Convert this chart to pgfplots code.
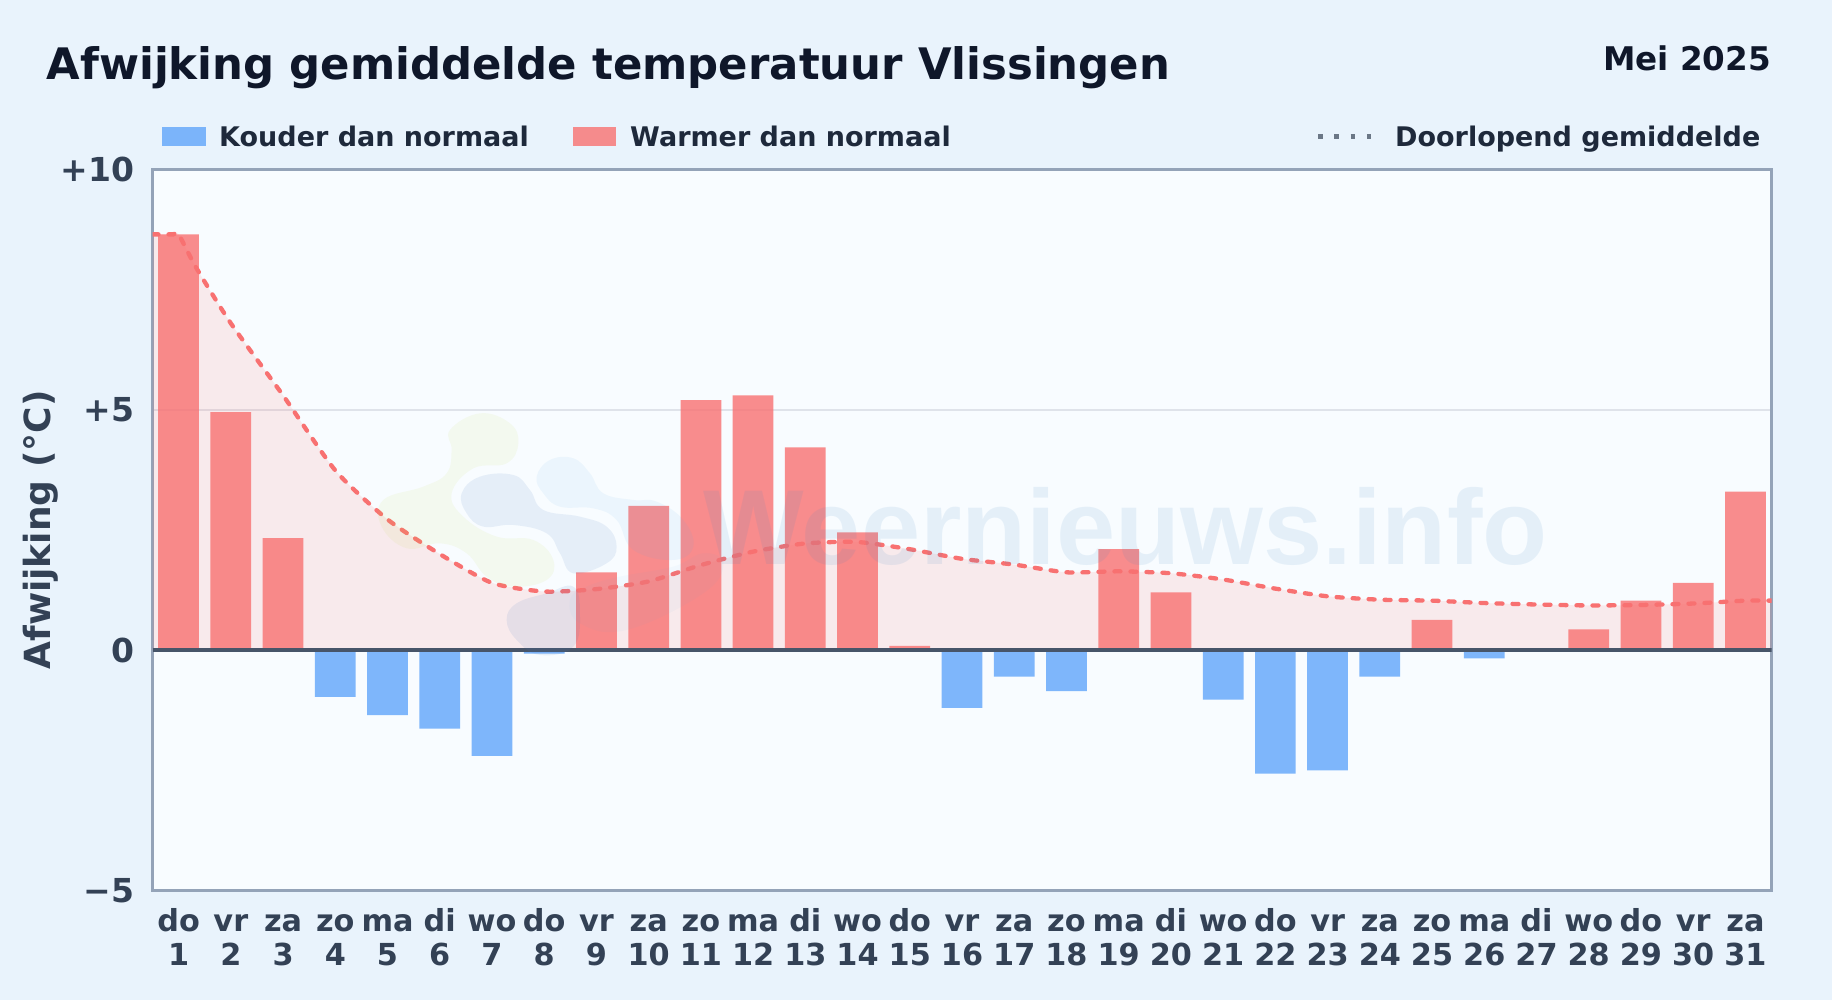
\documentclass[border=0pt]{standalone}
\usepackage{fontspec}
\setmainfont{DejaVu Sans}
\newfontfamily\markfont{Liberation Sans}
\usepackage{pgfplots}
\pgfplotsset{compat=1.18}
\definecolor{pagebg}{HTML}{E9F3FC}
\definecolor{plotbg}{HTML}{F8FCFF}
\definecolor{warm}{HTML}{F87171}
\definecolor{cold}{HTML}{60A5FA}
\definecolor{ink}{HTML}{0F172A}
\definecolor{legendink}{HTML}{1E293B}
\definecolor{tickink}{HTML}{334155}
\definecolor{frame}{HTML}{94A3B8}
\definecolor{zeroline}{HTML}{475569}
\definecolor{legenddots}{HTML}{6B7786}
\definecolor{wmgreen}{HTML}{BAD737}
\definecolor{wmsky}{HTML}{58ACEB}
\definecolor{wmblue}{HTML}{447AC3}
\definecolor{wmtext}{HTML}{3A84C3}
\newcommand\tl[2]{\rule{0pt}{26bp}#1\\#2}

\begin{document}
\begin{tikzpicture}[x=1bp,y=1bp]
\useasboundingbox (0,0) rectangle (1832,1000);
\fill[pagebg] (0,0) rectangle (1832,1000);

\begin{axis}[
    at={(152.5bp,109.5bp)}, anchor=south west,
    scale only axis, width=1619bp, height=721bp,
    xmin=0.5, xmax=31.5, ymin=-5, ymax=10,
    axis background/.style={fill=plotbg},
    axis line style={frame, line width=2.6bp},
    ytick={-5,0,5,10},
    yticklabels={−5,0,+5,+10},
    xtick={1,...,31},
    xticklabels={{\tl{do}{1}},{\tl{vr}{2}},{\tl{za}{3}},{\tl{zo}{4}},{\tl{ma}{5}},{\tl{di}{6}},{\tl{wo}{7}},{\tl{do}{8}},{\tl{vr}{9}},{\tl{za}{10}},{\tl{zo}{11}},{\tl{ma}{12}},{\tl{di}{13}},{\tl{wo}{14}},{\tl{do}{15}},{\tl{vr}{16}},{\tl{za}{17}},{\tl{zo}{18}},{\tl{ma}{19}},{\tl{di}{20}},{\tl{wo}{21}},{\tl{do}{22}},{\tl{vr}{23}},{\tl{za}{24}},{\tl{zo}{25}},{\tl{ma}{26}},{\tl{di}{27}},{\tl{wo}{28}},{\tl{do}{29}},{\tl{vr}{30}},{\tl{za}{31}}},
    tick style={draw=none},
    xticklabel style={align=center, font=\fontsize{30.3bp}{34bp}\selectfont\bfseries, text=tickink, yshift=-7.5bp},
    yticklabel style={font=\fontsize{33bp}{36bp}\selectfont\bfseries, text=tickink, xshift=-14.5bp},
    ylabel={Afwijking (°C)},
    every axis y label/.style={at={(axis description cs:-0.069,0.5)}, rotate=90, anchor=center},
    ylabel style={font=\fontsize{36bp}{38bp}\selectfont\bfseries, text=tickink},
    ymajorgrids, grid style={draw=frame!30, line width=1.4bp},
    ybar, bar shift=0pt, bar width=0.78,
]
% area under the running mean
\addplot[ybar=false, sharp plot, smooth, tension=0.4, draw=none, fill=warm, fill opacity=0.13] coordinates {
    (0.5,8.65) (0.9,8.65) (1,8.65) (1.33,7.97) (2,6.8) (3,5.3) (4,3.74) (5,2.72) (6,2.0) (7,1.4) (8,1.22) (9,1.27) (10,1.43)
    (11,1.77) (12,2.05) (13,2.22) (14,2.25) (15,2.1) (16,1.9) (17,1.78) (18,1.62) (19,1.64) (20,1.6)
    (21,1.47) (22,1.28) (23,1.12) (24,1.05) (25,1.03) (26,0.98) (27,0.95) (28,0.93) (29,0.94) (30,0.97)
    (31,1.03) (31.5,1.03)
} \closedcycle;
% warmer days
\addplot[draw=none, fill=warm, fill opacity=0.8] coordinates {
    (1,8.65) (2,4.95) (3,2.33) (9,1.62) (10,3.0) (11,5.2) (12,5.3) (13,4.22) (14,2.45) (15,0.09)
    (19,2.1) (20,1.2) (25,0.63) (28,0.43) (29,1.03) (30,1.4) (31,3.3)
};
% colder days
\addplot[draw=none, fill=cold, fill opacity=0.8] coordinates {
    (4,-0.97) (5,-1.35) (6,-1.63) (7,-2.2) (8,-0.07) (16,-1.2) (17,-0.55) (18,-0.85)
    (21,-1.03) (22,-2.57) (23,-2.5) (24,-0.55) (26,-0.17)
};
% zero line
\addplot[ybar=false, sharp plot, zeroline, line width=3.7bp] coordinates {(0.5,0) (31.5,0)};
% running mean
\addplot[ybar=false, sharp plot, smooth, tension=0.4, warm, line width=4.3bp, line cap=round, dash pattern=on 6bp off 10bp] coordinates {
    (0.5,8.65) (0.9,8.65) (1,8.65) (1.33,7.97) (2,6.8) (3,5.3) (4,3.74) (5,2.72) (6,2.0) (7,1.4) (8,1.22) (9,1.27) (10,1.43)
    (11,1.77) (12,2.05) (13,2.22) (14,2.25) (15,2.1) (16,1.9) (17,1.78) (18,1.62) (19,1.64) (20,1.6)
    (21,1.47) (22,1.28) (23,1.12) (24,1.05) (25,1.03) (26,0.98) (27,0.95) (28,0.93) (29,0.94) (30,0.97)
    (31,1.03) (31.5,1.03)
};
\end{axis}

% watermark, pixel coordinates of the logo crop
\begin{scope}[shift={(340,620)}, x=0.3333bp, y=-0.3333bp]
\fill[wmgreen, opacity=0.08] plot[smooth cycle, tension=0.7] coordinates {
    (330,150) (420,100) (510,130) (535,190) (500,250) (400,265) (335,340) (370,410) (470,470) (580,480)
    (640,540) (620,600) (520,620) (440,590) (380,520) (300,490) (200,505) (125,440) (130,360) (250,320)
    (320,280) (335,210)};
\fill[wmsky, opacity=0.08] plot[smooth cycle, tension=0.7] coordinates {
    (590,290) (630,240) (700,235) (750,280) (790,340) (880,360) (950,365) (1030,420) (1060,500)
    (1000,540) (880,510) (830,420) (760,385) (660,380) (610,340)};
\fill[wmblue, opacity=0.10] plot[smooth cycle, tension=0.7] coordinates {
    (365,340) (420,290) (520,285) (570,330) (610,390) (720,410) (800,440) (830,500) (800,550) (700,580)
    (660,520) (620,460) (520,435) (430,440) (380,400)};
\fill[wmblue, opacity=0.10] plot[smooth cycle, tension=0.7] coordinates {
    (500,720) (530,670) (620,640) (700,620) (720,700) (700,800) (600,825) (530,780)};
\fill[wmsky, opacity=0.04] plot[smooth cycle, tension=0.7] coordinates {
    (690,660) (740,620) (840,590) (1000,560) (1090,520) (1150,550) (1090,640) (860,750) (720,730)};
\end{scope}
\node[anchor=base west, inner sep=0, text=wmtext, opacity=0.10, font=\markfont\fontsize{106.5bp}{110bp}\selectfont\bfseries] at (703,435) {Weernieuws.info};

% title and month
\node[anchor=base west, inner sep=0, text=ink, font=\fontsize{43.4bp}{45bp}\selectfont\bfseries] at (46.4,920) {Afwijking gemiddelde temperatuur Vlissingen};
\node[anchor=base east, inner sep=0, text=ink, font=\fontsize{32.6bp}{34bp}\selectfont\bfseries] at (1771,929) {Mei 2025};

% legend
\fill[cold, opacity=0.8] (162,854) rectangle (206,873);
\node[anchor=base west, inner sep=0, text=legendink, font=\fontsize{27bp}{28bp}\selectfont\bfseries] at (219,853) {Kouder dan normaal};
\fill[warm, opacity=0.8] (573,854) rectangle (616,873);
\node[anchor=base west, inner sep=0, text=legendink, font=\fontsize{27bp}{28bp}\selectfont\bfseries] at (630,853) {Warmer dan normaal};
\draw[legenddots, line width=4.5bp, dash pattern=on 4.5bp off 11.8bp] (1318,863.5) -- (1376,863.5);
\node[anchor=base west, inner sep=0, text=legendink, font=\fontsize{27bp}{28bp}\selectfont\bfseries] at (1395,853) {Doorlopend gemiddelde};
\end{tikzpicture}
\end{document}
